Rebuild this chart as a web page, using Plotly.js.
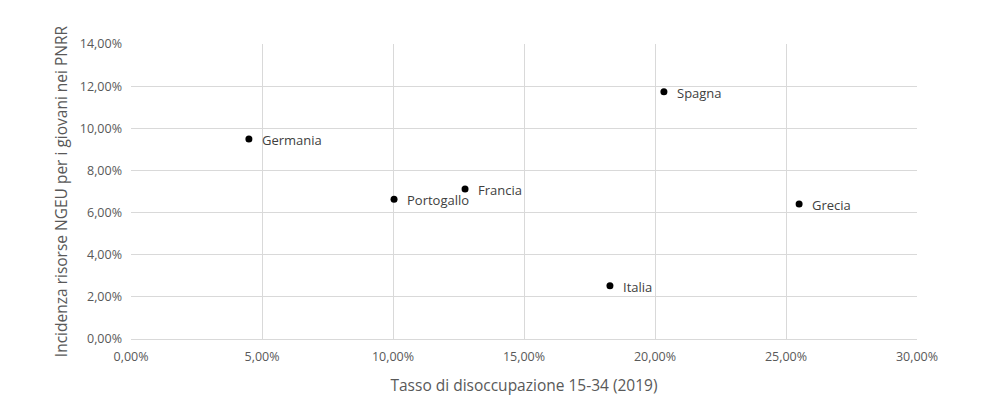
<!DOCTYPE html>
<html>
<head>
<meta charset="utf-8">
<script src="https://cdn.plot.ly/plotly-3.0.1.min.js"></script>
<style>html,body{margin:0;padding:0;background:#fff;}</style>
</head>
<body>
<div id="chart" style="width:1000px;height:415px;"></div>
<script>
const countries = ["Germania", "Portogallo", "Francia", "Spagna", "Grecia", "Italia"];
const unemployment = [0.0450, 0.1004, 0.1275, 0.2034, 0.2550, 0.1828];
const youthShare = [0.0949, 0.0663, 0.0712, 0.1173, 0.0641, 0.0253];
const xTitle = "Tasso di disoccupazione 15-34 (2019)";
const yTitle = "Incidenza risorse NGEU per i giovani nei PNRR";

const font = "Open Sans, Liberation Sans, sans-serif";
const labels = countries.map((c, i) => ({
  x: unemployment[i], y: youthShare[i], xref: "x", yref: "y",
  text: c, showarrow: false, xanchor: "left", yanchor: "middle",
  xshift: 11, yshift: -1,
  font: {family: font, size: 13, color: "#404040"}
}));
Plotly.newPlot("chart", [{
  type: "scatter",
  mode: "markers",
  x: unemployment,
  y: youthShare,
  marker: {size: 7, color: "#000000"},
  cliponaxis: false,
  hoverinfo: "skip"
}], {
  width: 1000, height: 415,
  margin: {l: 131, r: 83, t: 44, b: 76},
  separators: ",.",
  paper_bgcolor: "#ffffff",
  plot_bgcolor: "#ffffff",
  showlegend: false,
  font: {family: font, color: "#595959", size: 12},
  annotations: labels,
  xaxis: {
    range: [0, 0.30], dtick: 0.05, tick0: 0, tickformat: ".2%",
    showgrid: true, gridcolor: "#d9d9d9", gridwidth: 1,
    zeroline: false, showline: true, linecolor: "#d9d9d9", linewidth: 1, mirror: false,
    ticks: "", ticklabelstandoff: 6,
    tickfont: {size: 12.5, color: "#595959"},
    title: {text: xTitle, font: {size: 15.5, color: "#595959"}, standoff: 16}
  },
  yaxis: {
    range: [0, 0.14], dtick: 0.02, tick0: 0, tickformat: ".2%",
    showgrid: true, gridcolor: "#d9d9d9", gridwidth: 1,
    zeroline: false, showline: false,
    ticks: "", ticklabelstandoff: 8,
    tickfont: {size: 12.5, color: "#595959"},
    title: {text: yTitle, font: {size: 15.5, color: "#595959"}, standoff: 8}
  }
}, {displayModeBar: false, staticPlot: true});
</script>
</body>
</html>
